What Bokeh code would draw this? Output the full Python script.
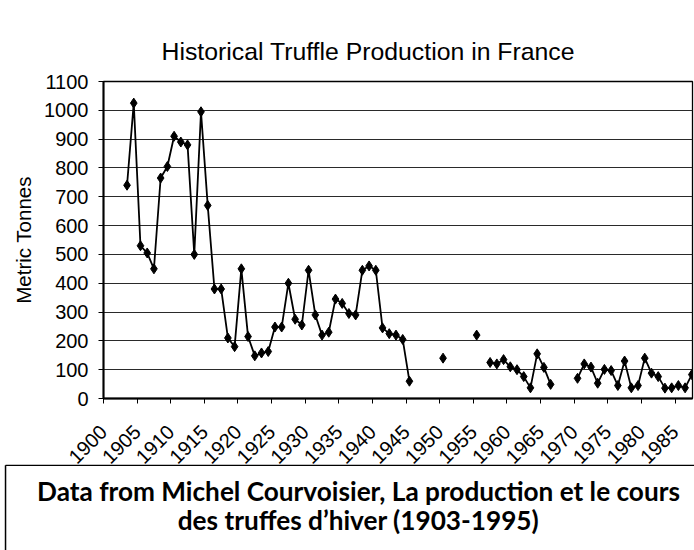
import math
from bokeh.plotting import figure
from bokeh.models import ColumnDataSource, FixedTicker, Range1d, Label
from bokeh.layouts import column
from bokeh.transform import dodge
from bokeh.embed import file_html
from bokeh.resources import INLINE

NaN = float("nan")

years = list(range(1903, 1988))
tonnes_by_year = {
    1903: 740, 1904: 1025, 1905: 530, 1906: 505, 1907: 450, 1908: 765, 1909: 805,
    1910: 910, 1911: 890, 1912: 880, 1913: 500, 1914: 995, 1915: 670, 1916: 380,
    1917: 380, 1918: 210, 1919: 180, 1920: 450, 1921: 215, 1922: 148, 1923: 158,
    1924: 163, 1925: 248, 1926: 248, 1927: 400, 1928: 275, 1929: 255, 1930: 445,
    1931: 290, 1932: 220, 1933: 230, 1934: 345, 1935: 330, 1936: 295, 1937: 290,
    1938: 445, 1939: 460, 1940: 445, 1941: 245, 1942: 225, 1943: 220, 1944: 205,
    1945: 60, 1950: 140, 1955: 220, 1957: 125, 1958: 120, 1959: 135, 1960: 110,
    1961: 100, 1962: 76, 1963: 37, 1964: 155, 1965: 108, 1966: 49, 1970: 70,
    1971: 120, 1972: 109, 1973: 53, 1974: 101, 1975: 97, 1976: 45, 1977: 130,
    1978: 37, 1979: 45, 1980: 140, 1981: 88, 1982: 76, 1983: 36, 1984: 37,
    1985: 45, 1986: 37, 1987: 83,
}
tonnes = [tonnes_by_year.get(y, NaN) for y in years]

x_tick_years = list(range(1900, 1990, 5))
y_ticks = list(range(0, 1200, 100))

title_text = "Historical Truffle Production in France"
y_label = "Metric Tonnes"
caption_lines = [
    "Data from Michel Courvoisier, La production et le cours",
    "des truffes d\u2019hiver (1903-1995)",
]

src = ColumnDataSource(data=dict(year=years, tonnes=tonnes))

FONT = "Liberation Sans"

p = figure(width=694, height=488, output_backend="svg", toolbar_location=None,
           x_range=Range1d(1900, 1987.6), y_range=Range1d(0, 1100),
           min_border_left=103, min_border_right=2, min_border_top=81,
           min_border_bottom=90)
p.background_fill_color = "white"
p.border_fill_color = "white"
p.outline_line_color = "black"
p.outline_line_width = 1.3

p.title.text = title_text
p.title.align = "left"
p.title.offset = 58
p.title.text_font = FONT
p.title.text_font_size = "24.8px"
p.title.text_font_style = "normal"
p.title.text_color = "black"
p.title.standoff = 34

p.line(x=dodge("year", 0.5), y="tonnes", source=src, line_color="black", line_width=1.8)
p.scatter(x=dodge("year", 0.5), y="tonnes", source=src, marker="diamond", size=10,
          fill_color="black", line_color="black")

p.xgrid.grid_line_color = None
p.ygrid.grid_line_color = "#2a2a2a"
p.ygrid.grid_line_width = 1.1
p.ygrid.ticker = FixedTicker(ticks=y_ticks)

xa = p.xaxis[0]
xa.ticker = FixedTicker(ticks=x_tick_years)
xa.major_label_orientation = math.pi / 4
xa.major_label_text_font = FONT
xa.major_label_text_font_size = "20px"
xa.major_label_text_color = "black"
xa.major_label_standoff = 25
xa.major_tick_out = 5
xa.major_tick_in = 0
xa.minor_tick_out = 0
xa.minor_tick_in = 0
xa.axis_line_width = 2
xa.axis_line_color = "black"
xa.major_tick_line_color = "black"

ya = p.yaxis[0]
ya.ticker = FixedTicker(ticks=y_ticks)
ya.major_label_text_font = FONT
ya.major_label_text_font_size = "20px"
ya.major_label_text_color = "black"
ya.major_label_standoff = 10
ya.major_tick_out = 5
ya.major_tick_in = 0
ya.minor_tick_out = 0
ya.minor_tick_in = 0
ya.axis_line_width = 2
ya.axis_line_color = "black"
ya.major_tick_line_color = "black"
ya.axis_label = y_label
ya.axis_label_text_font = FONT
ya.axis_label_text_font_size = "20.5px"
ya.axis_label_text_font_style = "normal"
ya.axis_label_text_color = "black"
ya.axis_label_standoff = 6

# caption box below the chart
c = figure(width=694, height=86, output_backend="svg", toolbar_location=None,
           x_range=Range1d(-0.0073, 1), y_range=Range1d(0, 1.01),
           min_border=0, margin=(-24, 0, 0, 0))
c.frame_align = False
c.axis.visible = False
c.grid.grid_line_color = None
c.outline_line_color = None
c.background_fill_color = "white"
c.border_fill_color = "white"
c.segment(x0=[0, 0], y0=[-0.1, 1], x1=[0, 1.1], y1=[1, 1],
          line_color="black", line_width=1.5)
cap_y = [0.697, 0.357]
for line_text, yy in zip(caption_lines, cap_y):
    c.add_layout(Label(x=0.5123, y=yy, text=line_text, text_font="Lato",
                       text_font_style="bold", text_font_size="26.2px", text_color="black",
                       text_align="center", text_baseline="alphabetic"))

layout = column(p, c, spacing=0)
open("out.html", "w").write(file_html(layout, INLINE))
